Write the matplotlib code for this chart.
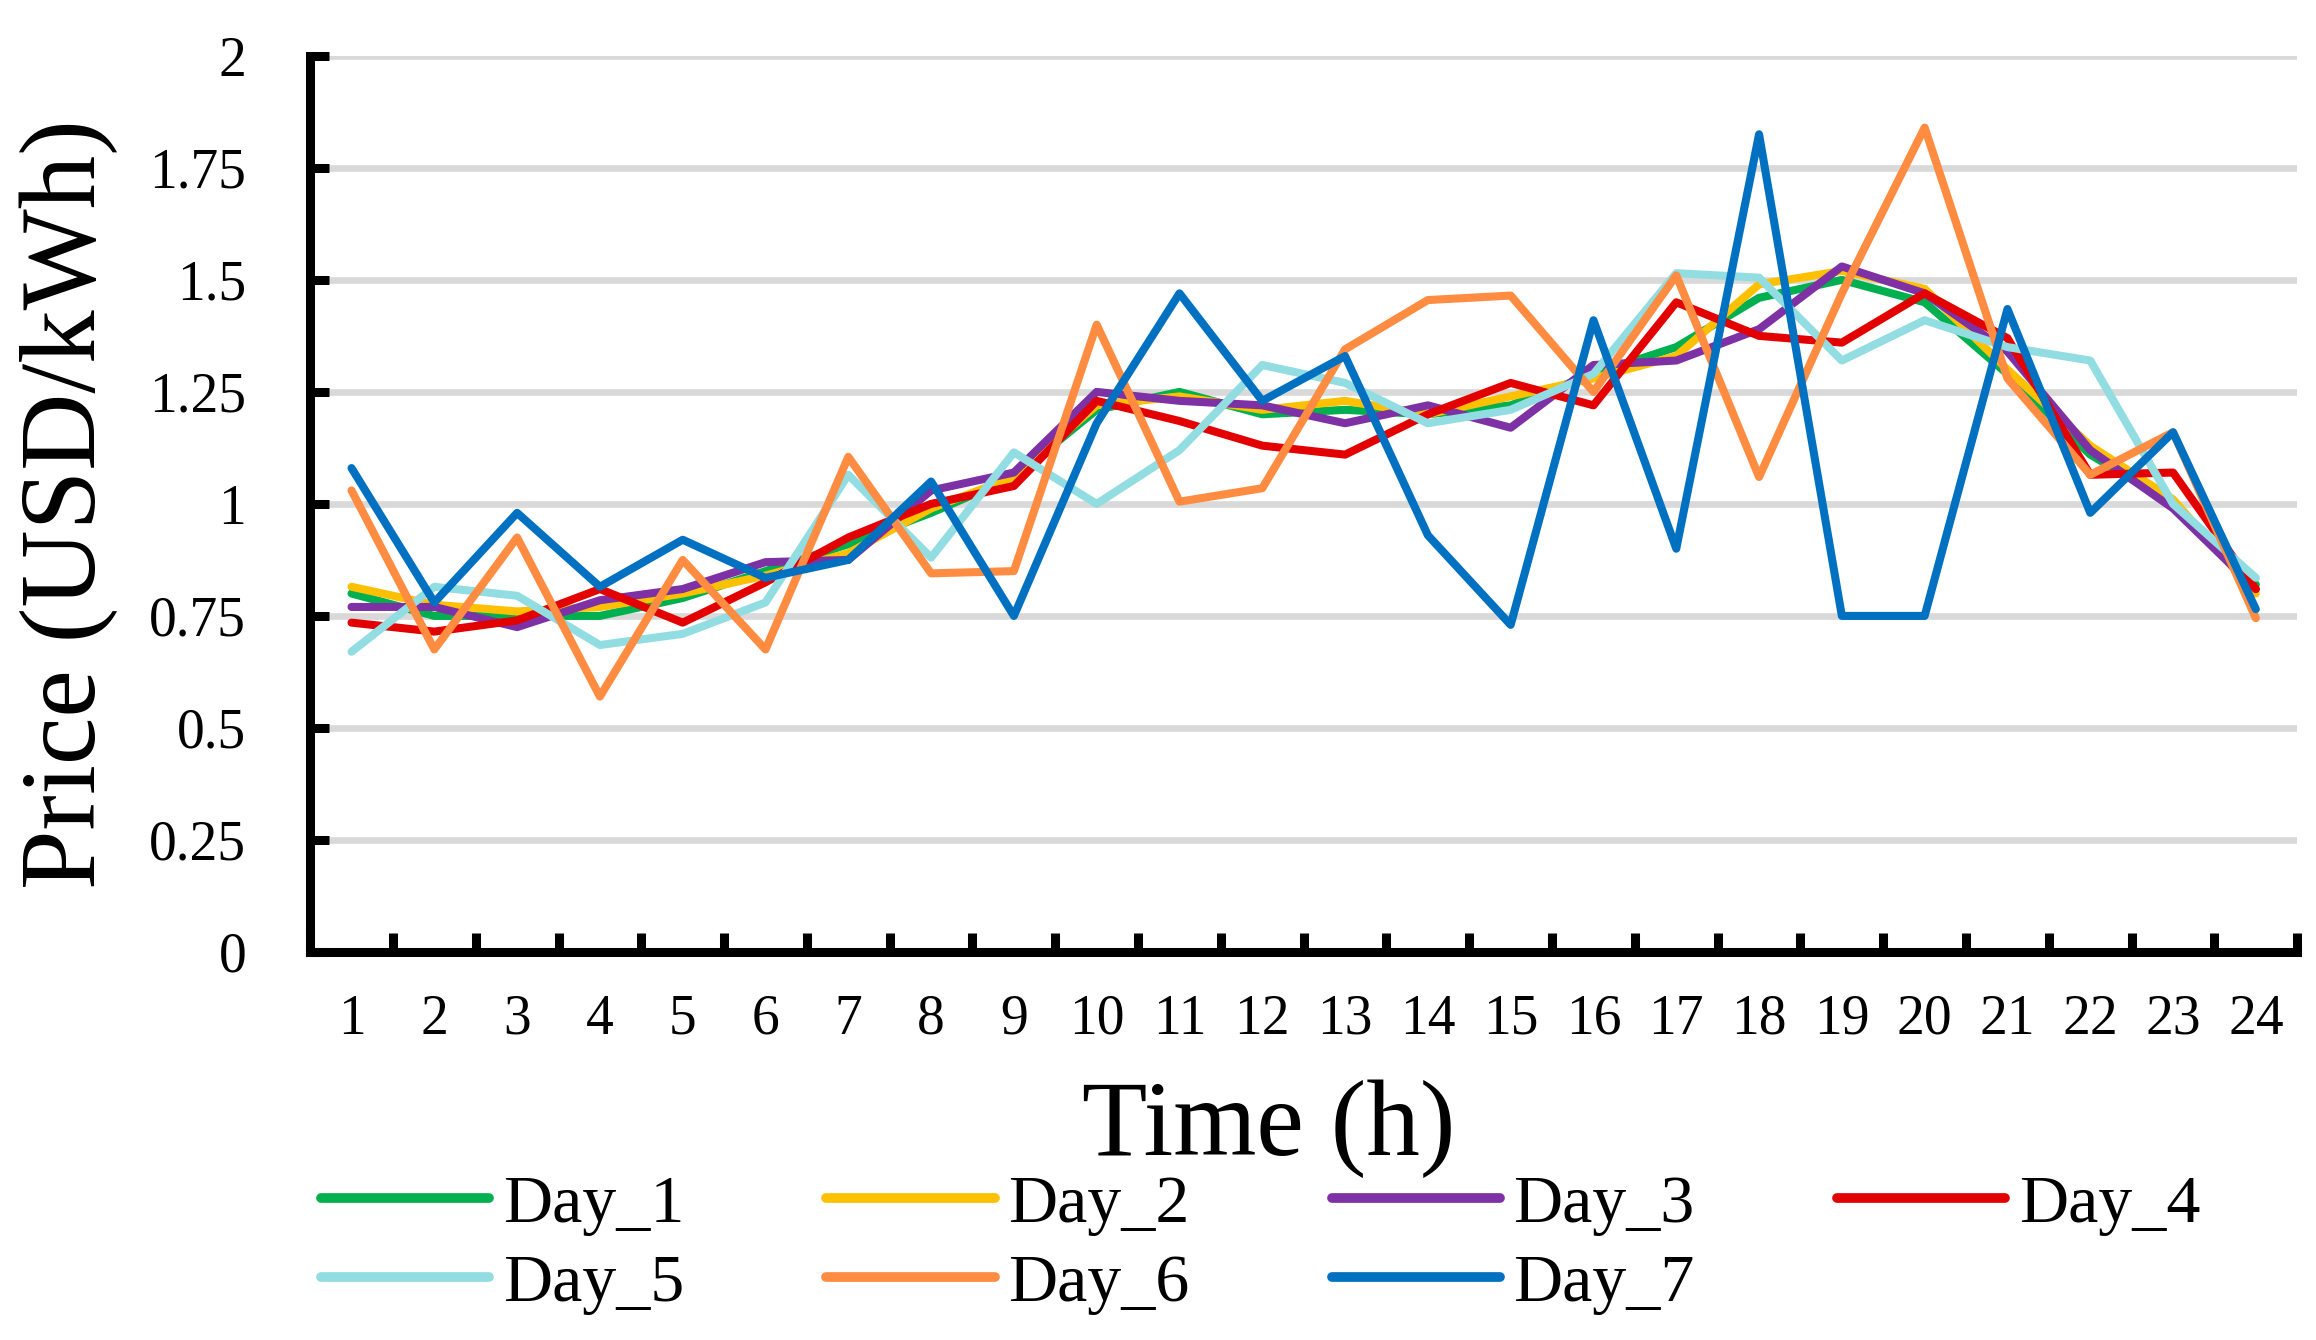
import numpy as np
import matplotlib
matplotlib.use("Agg")
import matplotlib.pyplot as plt

hours = list(range(1, 25))

# electricity price per day (USD/kWh)
day_1 = [0.80, 0.75, 0.75, 0.75, 0.79, 0.85, 0.91, 0.98, 1.06, 1.21, 1.25, 1.20, 1.21, 1.20, 1.22, 1.29,
         1.35, 1.46, 1.50, 1.45, 1.29, 1.11, 1.00, 0.82]
day_2 = [0.815, 0.775, 0.76, 0.77, 0.80, 0.84, 0.89, 0.99, 1.06, 1.22, 1.24, 1.21, 1.23, 1.20, 1.24, 1.28,
         1.33, 1.49, 1.52, 1.48, 1.30, 1.13, 1.01, 0.80]
day_3 = [0.77, 0.77, 0.725, 0.785, 0.81, 0.87, 0.875, 1.03, 1.07, 1.25, 1.23, 1.22, 1.18, 1.22, 1.17, 1.31,
         1.32, 1.39, 1.53, 1.47, 1.34, 1.12, 0.99, 0.81]
day_4 = [0.735, 0.715, 0.74, 0.81, 0.735, 0.825, 0.925, 1.00, 1.04, 1.23, 1.185, 1.13, 1.11, 1.20, 1.27, 1.22,
         1.45, 1.375, 1.36, 1.47, 1.37, 1.065, 1.07, 0.81]
day_5 = [0.67, 0.815, 0.795, 0.685, 0.71, 0.78, 1.065, 0.88, 1.115, 1.00, 1.12, 1.31, 1.27, 1.18, 1.21, 1.29,
         1.515, 1.505, 1.32, 1.41, 1.35, 1.32, 1.00, 0.835]
day_6 = [1.03, 0.675, 0.925, 0.57, 0.875, 0.675, 1.105, 0.845, 0.85, 1.40, 1.005, 1.035, 1.345, 1.455, 1.465, 1.25,
         1.51, 1.06, 1.47, 1.84, 1.28, 1.065, 1.16, 0.745]
day_7 = [1.08, 0.78, 0.98, 0.815, 0.92, 0.835, 0.875, 1.05, 0.75, 1.18, 1.47, 1.23, 1.33, 0.93, 0.73, 1.41,
         0.90, 1.825, 0.75, 0.75, 1.435, 0.98, 1.16, 0.765]

series = [day_1, day_2, day_3, day_4, day_5, day_6, day_7]
labels = ["Day_1", "Day_2", "Day_3", "Day_4", "Day_5", "Day_6", "Day_7"]
colors = ["#00B050", "#FFC000", "#7E30A5", "#E30000", "#92DDE1", "#FF8C40", "#0070C0"]

y_ticks = [0, 0.25, 0.5, 0.75, 1, 1.25, 1.5, 1.75, 2]

plt.rcParams["font.family"] = ["Liberation Serif", "DejaVu Serif"]

fig = plt.figure(figsize=(23.16, 13.4), dpi=100)
ax = fig.add_axes([0.1339, 0.2896, 0.858, 0.6687])

lines = []
for vals, lab, col in zip(series, labels, colors):
    ln, = ax.plot(hours, vals, color=col, lw=5.8, label=lab,
                  solid_joinstyle="round", solid_capstyle="round")
    lines.append(ln)

ax.set_xlim(0.5, 24.5)
ax.set_ylim(0, 2)

ax.set_yticks(y_ticks)
ax.set_yticklabels([f"{v:g}" for v in y_ticks])
ax.set_xticks(hours)
ax.set_xticks(np.arange(0.5, 25, 1), minor=True)

ax.yaxis.grid(True, color="#D9D9D9", lw=4.8)
ax.set_axisbelow(True)

for s in ["top", "right"]:
    ax.spines[s].set_visible(False)
for s in ["left", "bottom"]:
    ax.spines[s].set_linewidth(6.5)

ax.tick_params(axis="y", direction="in", length=13.5, width=6.5, labelsize=40, pad=46)
ax.tick_params(axis="x", which="major", length=0, labelsize=40, pad=30)
ax.tick_params(axis="x", which="minor", direction="in", length=13.5, width=6.5)

ax.set_xlabel("Time (h)", fontsize=77, va="center")
ax.xaxis.set_label_coords(0.4826, -0.197)
ax.set_ylabel("Price (USD/kWh)", fontsize=77, va="center")
ax.yaxis.set_label_coords(-0.1213, 0.5)

# legend filled row by row (matplotlib fills columns first)
order = [0, 4, 1, 5, 2, 6, 3]
leg = fig.legend([lines[i] for i in order], [labels[i] for i in order],
                 loc="center left", bbox_to_anchor=(0.1386, 0.0713), ncol=4,
                 frameon=False, fontsize=49, handlelength=2.47, handletextpad=0.2,
                 columnspacing=2.09, labelspacing=0.26, borderpad=0, borderaxespad=0)
for h in leg.get_lines():
    h.set_linewidth(7)

plt.savefig("out.png", dpi=100)
plt.close()
